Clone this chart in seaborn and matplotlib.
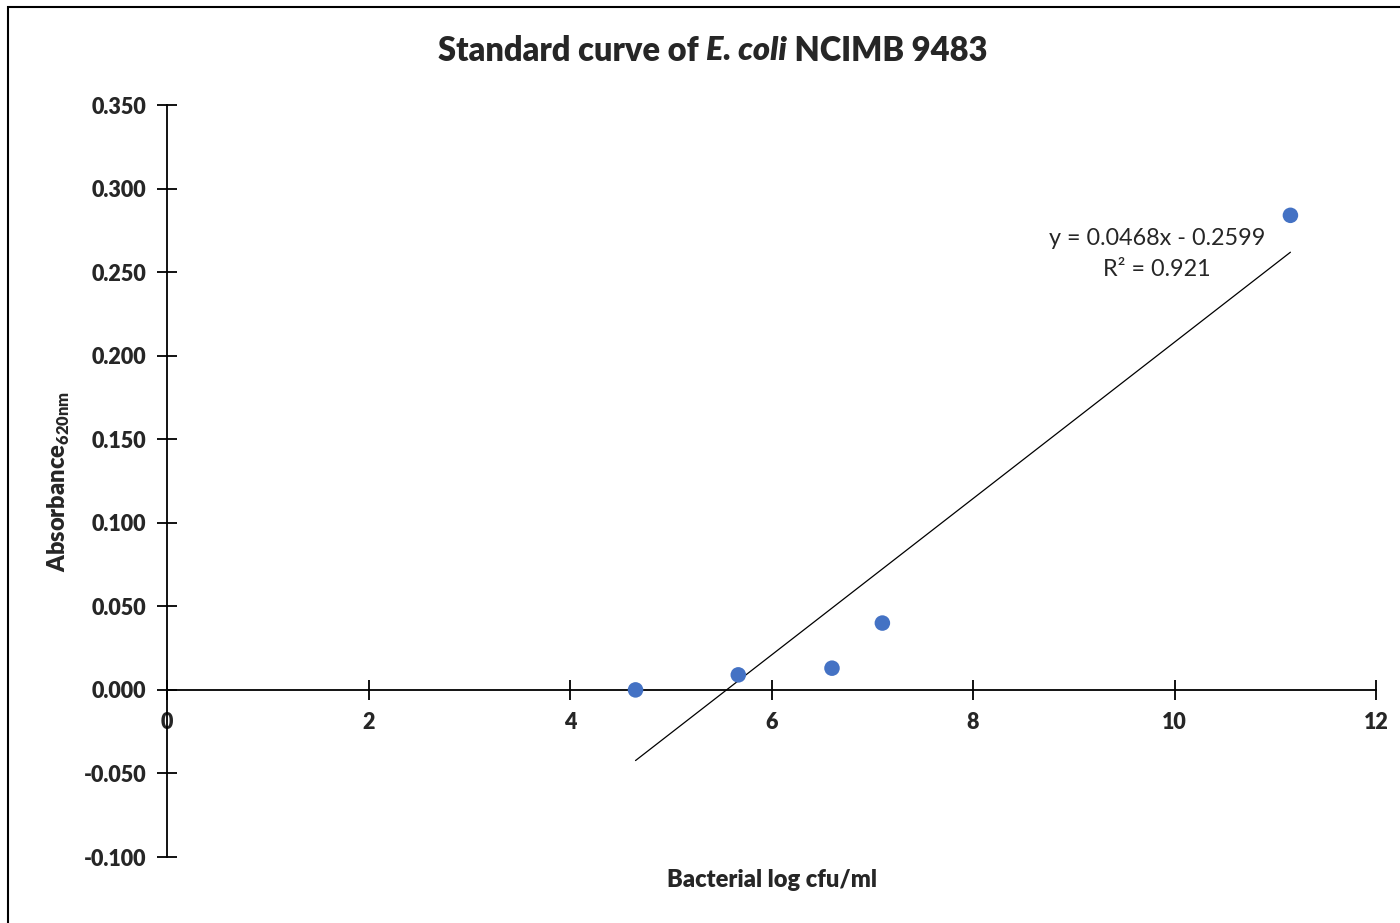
import numpy as np
import pandas as pd
import matplotlib
matplotlib.use('Agg')
import matplotlib.pyplot as plt
import seaborn as sns
from matplotlib.patches import Rectangle

# data
log_cfu = [4.65, 5.67, 6.60, 7.10, 11.15]
absorbance = [0.000, 0.009, 0.013, 0.040, 0.284]

# trendline given on the chart
slope = 0.0468
intercept = -0.2599
r_squared = 0.921

x_ticks = [0, 2, 4, 6, 8, 10, 12]
y_ticks = [-0.100, -0.050, 0.000, 0.050, 0.100, 0.150, 0.200, 0.250, 0.300, 0.350]

sns.set_style('white')
plt.rcParams['font.family'] = ['Lato', 'DejaVu Sans']
plt.rcParams['mathtext.fontset'] = 'custom'
plt.rcParams['mathtext.rm'] = 'Lato'
plt.rcParams['mathtext.bf'] = 'Lato:heavy'

W = 'heavy'

points = pd.DataFrame({'x': log_cfu, 'y': absorbance})
trend = pd.DataFrame({'x': [min(log_cfu), max(log_cfu)]})
trend['y'] = slope * trend['x'] + intercept

fig = plt.figure(figsize=(14, 9.23), dpi=100)
ax = fig.add_axes([0.1193, 0.0715, 0.8636, 0.8147])

sns.lineplot(data=trend, x='x', y='y', color='black', linewidth=0.9, ax=ax)
sns.scatterplot(data=points, x='x', y='y', color='#4472C4', s=125,
                edgecolor='none', ax=ax, zorder=4, clip_on=False)

ax.set_xlim(0, 12)
ax.set_ylim(-0.1, 0.35)
ax.spines['top'].set_visible(False)
ax.spines['right'].set_visible(False)
ax.spines['bottom'].set_position(('data', 0))
for s in ['left', 'bottom']:
    ax.spines[s].set_color('black')
    ax.spines[s].set_linewidth(1.3)

ax.set_xticks(x_ticks)
ax.set_xticklabels([str(t) for t in x_ticks], fontweight=W, fontsize=15.5)
ax.set_yticks(y_ticks)
ax.set_yticklabels(['{:.3f}'.format(t) for t in y_ticks], fontweight=W, fontsize=15.5)
ax.tick_params(axis='both', direction='inout', length=14, width=1.3, color='black')
ax.tick_params(axis='x', pad=9, bottom=True)
ax.tick_params(axis='y', pad=8, left=True)

ax.set_xlabel('Bacterial log cfu/ml', fontweight=W, fontsize=17)
ax.xaxis.set_label_coords(0.5, -0.016)
ax.set_ylabel(r'Absorbance$_{\mathbf{620nm}}$', fontweight=W, fontsize=17)
ax.yaxis.set_label_coords(-0.079, 0.5)

ax.text(0.819, 0.823, 'y = {:.4f}x - {:.4f}'.format(slope, -intercept),
        transform=ax.transAxes, ha='center', va='center', fontsize=16.8)
ax.text(0.819, 0.781, 'R\u00b2 = {:.3f}'.format(r_squared),
        transform=ax.transAxes, ha='center', va='center', fontsize=16.8)

# title with italic species name, pieced together
parts = [('Standard curve of ', 'normal'), ('E. coli', 'italic'), (' NCIMB 9483', 'normal')]
texts = [fig.text(0, 0.945, p, fontsize=23.5, fontweight=W, style=st, va='center')
         for p, st in parts]
fig.canvas.draw()
r = fig.canvas.get_renderer()
widths = [t.get_window_extent(r).width / fig.bbox.width for t in texts]
x0 = 0.509 - sum(widths) / 2
for t, w in zip(texts, widths):
    t.set_x(x0)
    x0 += w

# chart area frame (only top and left edges are inside the picture)
fig.patches.append(Rectangle((7.5 / 1400, -0.2), 1.5, 1.2 - 6.5 / 923,
                             transform=fig.transFigure, fill=False,
                             edgecolor='black', linewidth=1.5))

fig.savefig('out.png', dpi=100, facecolor='white')
